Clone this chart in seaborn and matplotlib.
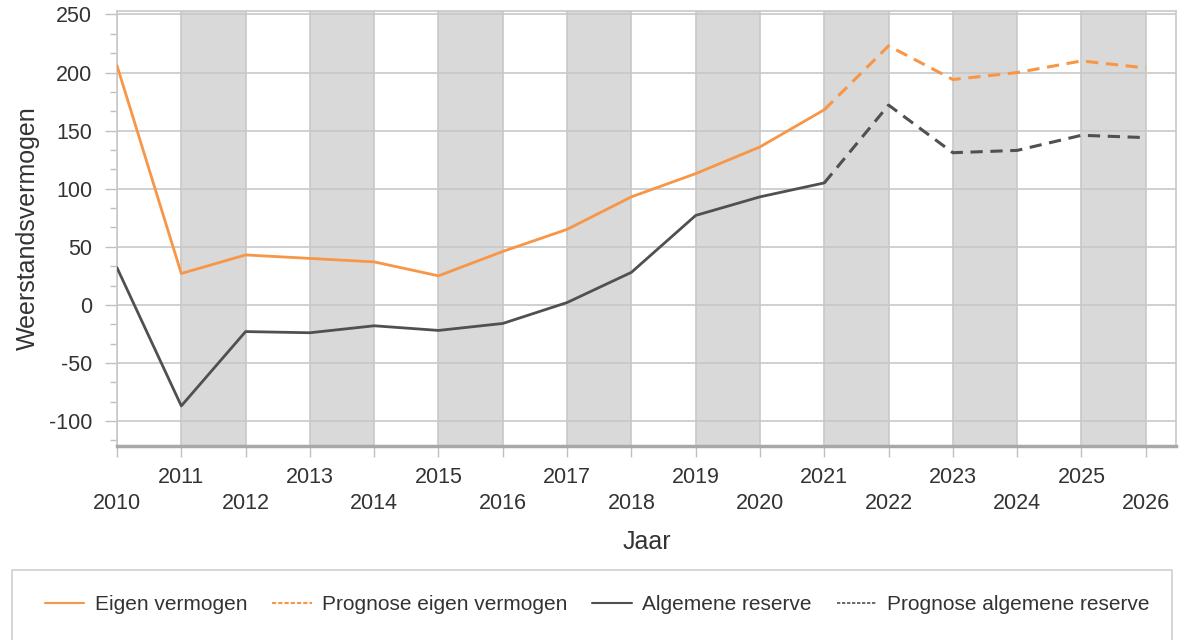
import matplotlib
matplotlib.use("Agg")
import matplotlib.pyplot as plt
import seaborn as sns
import pandas as pd
from matplotlib.ticker import MultipleLocator
from matplotlib.lines import Line2D
from matplotlib.patches import Rectangle

years = list(range(2010, 2027))
years_actual = list(range(2010, 2022))
years_forecast = list(range(2021, 2027))
eigen_vermogen = [206, 27, 43, 40, 37, 25, 46, 65, 93, 113, 136, 168]
prognose_eigen_vermogen = [168, 223, 194, 200, 210, 204]
algemene_reserve = [32, -87, -23, -24, -18, -22, -16, 2, 28, 77, 93, 105]
prognose_algemene_reserve = [105, 172, 131, 133, 146, 144]
tick_labels = [str(y) if y % 2 else "\n" + str(y) for y in years]

ORANGE = "#F79646"
DARK = "#505050"
TEXT = "#333333"

sns.set_theme(style="white")
plt.rcParams["font.family"] = ["Liberation Sans", "DejaVu Sans"]
plt.rcParams["axes.unicode_minus"] = False

fig = plt.figure(figsize=(11.82, 6.4), dpi=100)
ax = fig.add_axes([117 / 1182, 1 - 446 / 640, (1176 - 117) / 1182, (446 - 11) / 640])

for y in years:
    if y % 2 == 1 and y < 2026:
        ax.axvspan(y, y + 1, color="#D9D9D9", zorder=0, lw=0)

df_a = pd.DataFrame({"Jaar": years_actual, "ev": eigen_vermogen, "ar": algemene_reserve})
df_f = pd.DataFrame({"Jaar": years_forecast, "ev": prognose_eigen_vermogen, "ar": prognose_algemene_reserve})

sns.lineplot(data=df_a, x="Jaar", y="ev", ax=ax, color=ORANGE, lw=2.0, zorder=3)
sns.lineplot(data=df_f, x="Jaar", y="ev", ax=ax, color=ORANGE, lw=2.2, zorder=3,
             linestyle=(0, (4, 2.5)))
sns.lineplot(data=df_a, x="Jaar", y="ar", ax=ax, color=DARK, lw=2.0, zorder=3)
sns.lineplot(data=df_f, x="Jaar", y="ar", ax=ax, color=DARK, lw=2.2, zorder=3,
             linestyle=(0, (4, 2.5)))

ax.set_xlim(2010, 2026.47)
ax.set_ylim(-121.5, 253)
ax.set_xticks(years)
ax.set_xticklabels(tick_labels, linespacing=1.35)
ax.yaxis.set_major_locator(MultipleLocator(50))
ax.yaxis.set_minor_locator(MultipleLocator(50 / 3))
ax.grid(True, which="major", color="#C8C8C8", lw=1.2, zorder=1)
ax.set_axisbelow(True)

for s in ["top", "right", "left"]:
    ax.spines[s].set_color("#C8C8C8")
    ax.spines[s].set_linewidth(1.2)
ax.spines["bottom"].set_color("#A8A8A8")
ax.spines["bottom"].set_linewidth(2.5)

ax.tick_params(axis="y", which="major", length=9, width=1, color="#C0C0C0",
               left=True, pad=9, labelsize=15.5, labelcolor=TEXT)
ax.tick_params(axis="y", which="minor", length=5, width=1, color="#C0C0C0", left=True)
ax.tick_params(axis="x", which="major", length=8, width=1, color="#C0C0C0",
               bottom=True, pad=7, labelsize=15.5, labelcolor=TEXT)

ax.set_xlabel("Jaar", fontsize=18, color=TEXT, labelpad=11)
ax.set_ylabel("Weerstandsvermogen", fontsize=18, color=TEXT, labelpad=6)

fig.patches.append(Rectangle((12 / 1182, -0.1), (1172 - 12) / 1182, 0.1 + (640 - 570) / 640,
                             transform=fig.transFigure, fill=False,
                             edgecolor="#D0D0D0", lw=1.2))

handles = [
    Line2D([], [], color=ORANGE, lw=1.5),
    Line2D([], [], color=ORANGE, lw=1.5, linestyle=(0, (2, 1))),
    Line2D([], [], color=DARK, lw=1.5),
    Line2D([], [], color=DARK, lw=1.2, linestyle=(0, (2, 1))),
]
labels = ["Eigen vermogen", "Prognose eigen vermogen", "Algemene reserve", "Prognose algemene reserve"]
fig.legend(handles, labels, loc="center", bbox_to_anchor=(597 / 1182, 1 - 605 / 640),
           ncol=4, frameon=False, fontsize=15, handlelength=1.9, handletextpad=0.5,
           columnspacing=1.2, labelcolor=TEXT)

fig.savefig("out.png", dpi=100)
